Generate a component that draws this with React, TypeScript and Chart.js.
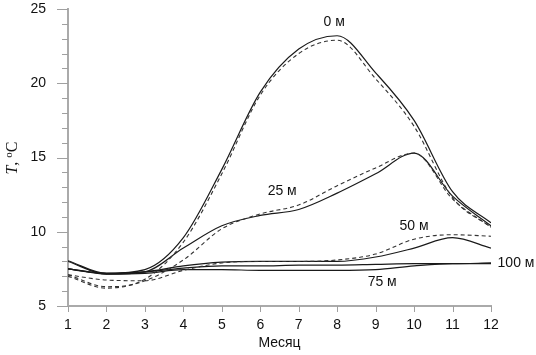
import React, { useEffect, useRef } from "react";
import { Chart, registerables } from "chart.js";

Chart.register(...registerables);

const months = [1, 2, 3, 4, 5, 6, 7, 8, 9, 10, 11, 12];
const yTickValues = [5, 10, 15, 20, 25];

const t0Solid = [8.05, 7.2, 7.45, 9.6, 14.2, 19.4, 22.3, 23.2, 20.7, 17.5, 12.7, 10.6];
const t0Dashed = [7.1, 6.3, 6.8, 9.3, 13.9, 19.2, 22.0, 22.9, 20.3, 17.1, 12.3, 10.3];
const t25Solid = [8.0, 7.15, 7.3, 8.9, 10.4, 11.1, 11.5, 12.6, 13.9, 15.3, 12.4, 10.4];
const t25Dashed = [7.0, 6.2, 6.7, 8.1, 10.2, 11.2, 11.8, 13.1, 14.3, 15.3, 12.2, 10.3];
const t50Solid = [7.5, 7.2, 7.3, 7.7, 7.95, 8.0, 8.0, 8.0, 8.3, 8.9, 9.6, 8.9];
const t50Dashed = [7.1, 6.75, 6.7, 7.4, 7.9, 8.0, 8.0, 8.1, 8.5, 9.5, 9.8, 9.7];
const t75Solid = [7.5, 7.15, 7.2, 7.45, 7.45, 7.4, 7.4, 7.4, 7.45, 7.7, 7.85, 7.85];
const t100Solid = [7.5, 7.2, 7.3, 7.55, 7.7, 7.7, 7.75, 7.75, 7.8, 7.85, 7.85, 7.9];

const depthLabels = ["0 м", "25 м", "50 м", "75 м", "100 м"];
const depthLabelMonth = [7.92, 6.57, 10.0, 9.17, 12.65];
const depthLabelTemp = [24.1, 12.75, 10.4, 6.6, 7.86];

const xTitle = "Месяц";

function toPoints(vals: number[]) {
  return vals.map((v, i) => ({ x: months[i], y: v }));
}

const SANS = "'Liberation Sans', Arial, sans-serif";
const SERIF = "'Liberation Serif', 'Times New Roman', serif";

const extrasPlugin = {
  id: "extras",
  afterDraw(chart: any) {
    const { ctx, scales } = chart;
    const x = scales.x;
    const y = scales.y;
    ctx.save();
    ctx.strokeStyle = "#a0a0a0";
    ctx.lineWidth = 1;
    const left = x.left;
    for (let v = 5; v <= 25; v += 1) {
      const py = Math.round(y.getPixelForValue(v)) + 0.5;
      const len = v % 5 === 0 ? 11 : 6;
      ctx.beginPath();
      ctx.moveTo(left - len, py);
      ctx.lineTo(left, py);
      ctx.stroke();
    }
    const bottom = y.bottom;
    for (const m of months) {
      const px = Math.round(x.getPixelForValue(m)) + 0.5;
      ctx.beginPath();
      ctx.moveTo(px, bottom);
      ctx.lineTo(px, bottom + 6);
      ctx.stroke();
    }
    ctx.fillStyle = "#111";
    ctx.font = `14px ${SANS}`;
    ctx.textAlign = "center";
    ctx.textBaseline = "middle";
    depthLabels.forEach((lbl, i) => {
      ctx.fillText(lbl, x.getPixelForValue(depthLabelMonth[i]), y.getPixelForValue(depthLabelTemp[i]));
    });
    ctx.font = `14px ${SANS}`;
    ctx.fillText(xTitle, (x.left + x.right) / 2, 343);
    ctx.translate(13, 158);
    ctx.rotate(-Math.PI / 2);
    ctx.textAlign = "left";
    ctx.textBaseline = "middle";
    const fT = `italic 16px ${SERIF}`;
    const fN = `16px ${SERIF}`;
    const fS = `11px ${SERIF}`;
    ctx.font = fT;
    const wT = ctx.measureText("T").width;
    ctx.font = fN;
    const wC = ctx.measureText(", ").width;
    const wCc = ctx.measureText("C").width;
    ctx.font = fS;
    const wo = ctx.measureText("o").width;
    const total = wT + wC + wo + wCc;
    let cx = -total / 2;
    ctx.font = fT;
    ctx.fillText("T", cx, 0);
    cx += wT;
    ctx.font = fN;
    ctx.fillText(", ", cx, 0);
    cx += wC;
    ctx.font = fS;
    ctx.fillText("o", cx, -4);
    cx += wo;
    ctx.font = fN;
    ctx.fillText("C", cx, 0);
    ctx.restore();
  },
};

export default function App() {
  const ref = useRef<HTMLCanvasElement>(null);
  useEffect(() => {
    if (!ref.current) return;
    const solid = (data: number[]) => ({
      data: toPoints(data),
      borderColor: "#1a1a1a",
      borderWidth: 1.2,
      pointRadius: 0,
      fill: false,
      cubicInterpolationMode: "monotone" as const,
    });
    const dashed = (data: number[]) => ({
      data: toPoints(data),
      borderColor: "#333",
      borderWidth: 1.1,
      borderDash: [4, 3],
      pointRadius: 0,
      fill: false,
      cubicInterpolationMode: "monotone" as const,
    });
    const hiddenGrid = (len: number) => ({
      display: true,
      drawOnChartArea: false,
      drawTicks: true,
      tickLength: len,
      color: "rgba(0,0,0,0)",
      tickColor: "rgba(0,0,0,0)",
    });
    const chart = new Chart(ref.current, {
      type: "line",
      data: {
        datasets: [
          dashed(t0Dashed),
          solid(t0Solid),
          dashed(t25Dashed),
          solid(t25Solid),
          dashed(t50Dashed),
          solid(t50Solid),
          solid(t75Solid),
          solid(t100Solid),
        ],
      },
      options: {
        responsive: false,
        animation: false,
        layout: { padding: { left: 0, top: 9, right: 45, bottom: 0 } },
        plugins: { legend: { display: false }, tooltip: { enabled: false } },
        scales: {
          x: {
            type: "linear",
            min: 1,
            max: 12,
            grid: hiddenGrid(11),
            border: { display: true, color: "#aaaaaa", width: 2 },
            ticks: {
              stepSize: 1,
              padding: 0,
              color: "#111",
              font: { family: SANS, size: 14 },
              callback: (v: any) => String(v),
            },
            afterFit: (s: any) => {
              s.height = 49;
            },
          },
          y: {
            type: "linear",
            min: 5,
            max: 25,
            grid: hiddenGrid(22),
            border: { display: true, color: "#aaaaaa", width: 2 },
            afterBuildTicks: (s: any) => {
              s.ticks = yTickValues.map((v) => ({ value: v }));
            },
            ticks: {
              padding: 0,
              color: "#111",
              font: { family: SANS, size: 14 },
              callback: (v: any) => String(v),
            },
            afterFit: (s: any) => {
              s.width = 68;
            },
          },
        },
      },
      plugins: [extrasPlugin],
    });
    return () => chart.destroy();
  }, []);
  return (
    <div style={{ position: "fixed", left: 0, top: 0, width: 536, height: 355, background: "#fff" }}>
      <canvas ref={ref} width={536} height={355} style={{ display: "block" }} />
    </div>
  );
}
